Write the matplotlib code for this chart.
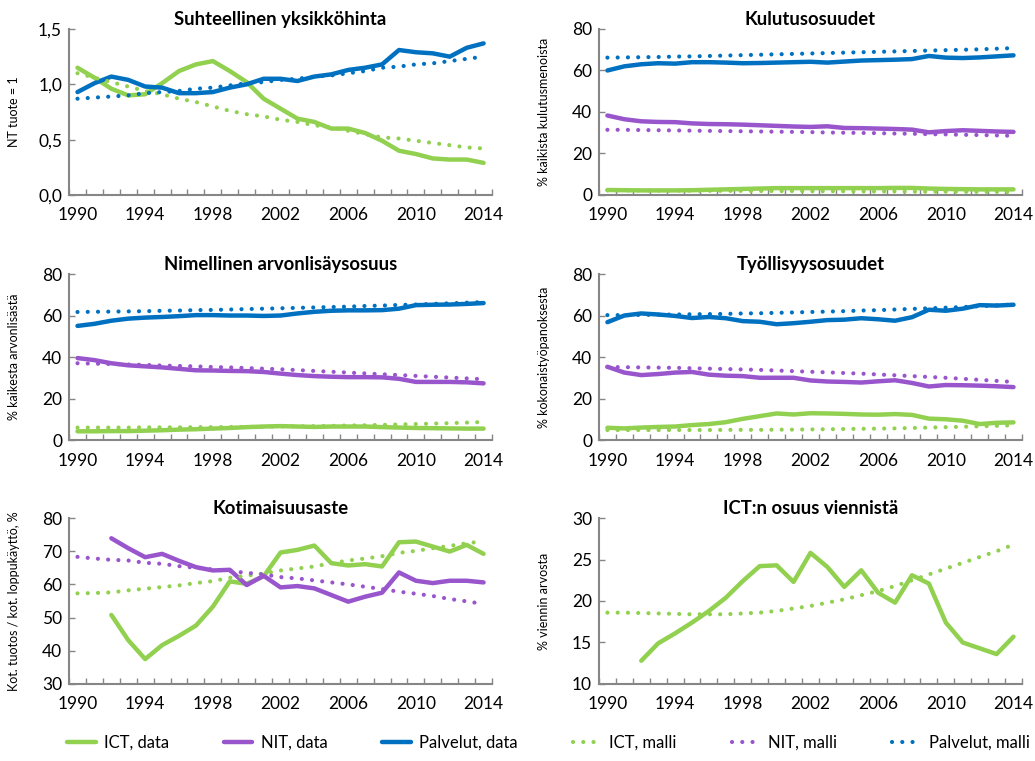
import matplotlib
matplotlib.use("Agg")
import matplotlib.pyplot as plt
from matplotlib.ticker import FuncFormatter, MultipleLocator
import numpy as np

plt.rcParams['font.family'] = ['Lato', 'DejaVu Sans']

years = list(range(1990, 2015))
nan = np.nan

GREEN = '#92D050'
PURPLE = '#9955CC'
BLUE = '#0070C0'
AXCOL = '#868686'

# Suhteellinen yksikkohinta
p1_ict = [1.15, 1.06, 0.96, 0.90, 0.91, 1.01, 1.12, 1.18, 1.21, 1.12, 1.02, 0.87, 0.78, 0.69, 0.66,
          0.60, 0.60, 0.56, 0.49, 0.40, 0.37, 0.33, 0.32, 0.32, 0.29]
p1_nit = [nan] * 25
p1_palv = [0.93, 1.01, 1.07, 1.04, 0.98, 0.97, 0.92, 0.92, 0.93, 0.97, 1.00, 1.05, 1.05, 1.03, 1.07,
           1.09, 1.13, 1.15, 1.18, 1.31, 1.29, 1.28, 1.25, 1.33, 1.37]
p1_ict_m = [1.10, 1.06, 1.02, 0.98, 0.94, 0.91, 0.87, 0.84, 0.80, 0.76, 0.73, 0.71, 0.68, 0.66, 0.63,
            0.61, 0.58, 0.55, 0.52, 0.51, 0.49, 0.47, 0.45, 0.43, 0.42]
p1_nit_m = [nan] * 25
p1_palv_m = [0.87, 0.88, 0.89, 0.90, 0.92, 0.93, 0.94, 0.96, 0.97, 0.99, 1.01, 1.02, 1.04, 1.05, 1.07,
             1.08, 1.10, 1.12, 1.15, 1.16, 1.18, 1.19, 1.21, 1.23, 1.25]

# Kulutusosuudet
p2_ict = [2.4, 2.3, 2.2, 2.2, 2.2, 2.3, 2.5, 2.7, 2.9, 3.1, 3.3, 3.3, 3.3, 3.3, 3.3,
          3.3, 3.3, 3.4, 3.4, 3.1, 2.9, 2.8, 2.7, 2.7, 2.7]
p2_nit = [38.3, 36.5, 35.5, 35.2, 35.1, 34.5, 34.2, 34.1, 33.9, 33.6, 33.3, 33.0, 32.8, 33.1, 32.3,
          32.2, 32.0, 31.8, 31.5, 30.2, 30.8, 31.2, 30.9, 30.6, 30.4]
p2_palv = [60.0, 62.0, 63.0, 63.5, 63.3, 64.0, 64.0, 63.8, 63.5, 63.6, 63.8, 64.0, 64.2, 63.8, 64.3,
           64.8, 65.0, 65.2, 65.5, 67.0, 66.2, 66.0, 66.3, 66.8, 67.3]
p2_ict_m = [2.2, 2.2, 2.2, 2.1, 2.1, 2.1, 2.0, 2.0, 2.0, 1.9, 1.9, 1.9, 1.8, 1.8, 1.8,
            1.7, 1.7, 1.7, 1.6, 1.6, 1.6, 1.5, 1.5, 1.5, 1.4]
p2_nit_m = [31.4, 31.4, 31.3, 31.2, 31.1, 31.0, 30.9, 30.8, 30.7, 30.6, 30.5, 30.4, 30.3, 30.1, 30.0,
            29.9, 29.8, 29.6, 29.5, 29.3, 29.2, 29.0, 28.9, 28.7, 28.5]
p2_palv_m = [66.2, 66.3, 66.4, 66.5, 66.7, 66.8, 67.0, 67.2, 67.4, 67.6, 67.8, 68.0, 68.2, 68.4, 68.6,
             68.8, 69.0, 69.2, 69.4, 69.6, 69.8, 70.0, 70.2, 70.5, 70.8]

# Nimellinen arvonlisaysosuus
p3_ict = [4.2, 4.2, 4.3, 4.3, 4.5, 4.7, 5.0, 5.2, 5.5, 5.8, 6.2, 6.5, 6.7, 6.5, 6.3,
          6.5, 6.5, 6.5, 6.2, 6.0, 5.8, 5.7, 5.6, 5.5, 5.5]
p3_nit = [39.5, 38.5, 37.0, 36.0, 35.5, 35.0, 34.3, 33.6, 33.5, 33.3, 33.2, 32.8, 32.0, 31.3, 30.8,
          30.5, 30.3, 30.3, 30.2, 29.5, 28.0, 28.0, 28.0, 27.8, 27.3]
p3_palv = [55.0, 56.0, 57.5, 58.5, 59.0, 59.3, 59.7, 60.2, 60.2, 60.0, 60.0, 59.8, 60.0, 61.0, 61.8,
           62.3, 62.5, 62.5, 62.6, 63.3, 65.0, 65.2, 65.3, 65.6, 66.0]
p3_ict_m = [6.0, 6.0, 6.0, 6.0, 6.1, 6.1, 6.1, 6.2, 6.2, 6.3, 6.3, 6.4, 6.5, 6.6, 6.7,
            6.8, 7.0, 7.1, 7.3, 7.5, 7.7, 7.9, 8.1, 8.4, 8.7]
p3_nit_m = [37.0, 36.8, 36.6, 36.4, 36.2, 35.9, 35.7, 35.5, 35.2, 35.0, 34.7, 34.4, 34.1, 33.7, 33.3,
            32.9, 32.5, 32.1, 31.7, 31.3, 30.9, 30.5, 30.1, 29.7, 29.3]
p3_palv_m = [61.7, 61.8, 61.9, 62.0, 62.1, 62.3, 62.4, 62.6, 62.7, 62.9, 63.1, 63.3, 63.5, 63.7, 63.9,
             64.1, 64.3, 64.6, 64.8, 65.1, 65.3, 65.6, 65.9, 66.2, 66.5]

# Tyollisyysosuudet
p4_ict = [5.9, 5.6, 6.0, 6.3, 6.5, 7.2, 7.7, 8.6, 10.2, 11.5, 12.8, 12.3, 12.9, 12.8, 12.6,
          12.3, 12.2, 12.5, 12.1, 10.3, 10.0, 9.3, 7.7, 8.3, 8.5]
p4_nit = [35.3, 32.5, 31.3, 31.8, 32.5, 32.8, 31.5, 31.0, 30.8, 30.0, 30.0, 30.0, 28.7, 28.2, 28.0,
          27.7, 28.3, 28.8, 27.5, 25.8, 26.5, 26.4, 26.2, 25.9, 25.5]
p4_palv = [56.8, 60.0, 61.0, 60.5, 59.8, 58.8, 59.3, 58.7, 57.3, 57.0, 55.8, 56.3, 57.0, 57.8, 58.0,
           58.7, 58.2, 57.5, 59.2, 62.8, 62.3, 63.3, 65.0, 64.8, 65.2]
p4_ict_m = [4.8, 4.8, 4.8, 4.8, 4.8, 4.8, 4.8, 4.9, 4.9, 4.9, 5.0, 5.0, 5.1, 5.2, 5.3,
            5.4, 5.5, 5.6, 5.8, 6.0, 6.2, 6.4, 6.6, 6.8, 7.1]
p4_nit_m = [35.2, 35.1, 35.0, 34.9, 34.8, 34.6, 34.4, 34.2, 34.0, 33.8, 33.5, 33.2, 32.9, 32.6, 32.3,
            32.0, 31.6, 31.2, 30.8, 30.4, 30.0, 29.5, 29.0, 28.5, 28.0]
p4_palv_m = [60.2, 60.2, 60.3, 60.4, 60.5, 60.6, 60.7, 60.8, 61.0, 61.1, 61.3, 61.5, 61.7, 61.9, 62.1,
             62.4, 62.6, 62.9, 63.2, 63.5, 63.8, 64.1, 64.5, 64.9, 65.3]

# Kotimaisuusaste
p5_ict = [nan, nan, 50.8, 43.2, 37.5, 41.7, 44.5, 47.6, 53.3, 60.9, 60.2, 62.4, 69.6, 70.4, 71.7,
          66.4, 65.7, 66.1, 65.4, 72.7, 72.9, 71.4, 69.9, 71.9, 69.2]
p5_nit = [nan, nan, 73.9, 70.9, 68.2, 69.2, 67.1, 65.2, 64.2, 64.4, 59.8, 62.6, 59.1, 59.5, 58.8,
          56.8, 54.8, 56.3, 57.5, 63.6, 61.1, 60.4, 61.1, 61.1, 60.6]
p5_palv = [nan] * 25
p5_ict_m = [57.3, 57.4, 57.6, 58.2, 58.7, 59.2, 59.7, 60.4, 61.0, 62.0, 62.6, 63.3, 64.2, 64.8, 65.4,
            66.4, 67.2, 67.8, 68.5, 69.5, 70.1, 70.9, 71.6, 72.4, 73.0]
p5_nit_m = [68.3, 67.8, 67.4, 67.2, 66.5, 66.2, 65.5, 65.0, 64.5, 64.0, 63.5, 63.0, 62.2, 61.8, 61.2,
            60.6, 60.0, 59.3, 58.6, 57.8, 57.2, 56.5, 55.6, 54.9, 54.1]
p5_palv_m = [nan] * 25

# ICT:n osuus viennista
p6_ict = [nan, nan, 12.8, 14.9, 16.1, 17.4, 18.8, 20.4, 22.4, 24.2, 24.3, 22.3, 25.8, 24.1, 21.7,
          23.7, 21.0, 19.8, 23.1, 22.1, 17.4, 15.0, 14.3, 13.6, 15.7]
p6_ict_m = [18.6, 18.6, 18.55, 18.5, 18.45, 18.4, 18.4, 18.4, 18.5, 18.6, 18.8, 19.1, 19.4, 19.8, 20.2,
            20.7, 21.2, 21.8, 22.5, 23.2, 23.9, 24.6, 25.3, 26.0, 26.8]
p6_nan = [nan] * 25

series_labels = ['ICT, data', 'NIT, data', 'Palvelut, data', 'ICT, malli', 'NIT, malli', 'Palvelut, malli']

panels = [
    ('Suhteellinen yksikköhinta', 'NT tuote = 1', (0, 1.5), 0.5,
     [p1_ict, p1_nit, p1_palv, p1_ict_m, p1_nit_m, p1_palv_m]),
    ('Kulutusosuudet', '% kaikista kulutusmenoista', (0, 80), 20,
     [p2_ict, p2_nit, p2_palv, p2_ict_m, p2_nit_m, p2_palv_m]),
    ('Nimellinen arvonlisäysosuus', '% kaikesta arvonlisästä', (0, 80), 20,
     [p3_ict, p3_nit, p3_palv, p3_ict_m, p3_nit_m, p3_palv_m]),
    ('Työllisyysosuudet', '% kokonaistyöpanoksesta', (0, 80), 20,
     [p4_ict, p4_nit, p4_palv, p4_ict_m, p4_nit_m, p4_palv_m]),
    ('Kotimaisuusaste', 'Kot. tuotos / kot. loppukäyttö, %', (30, 80), 10,
     [p5_ict, p5_nit, p5_palv, p5_ict_m, p5_nit_m, p5_palv_m]),
    ('ICT:n osuus viennistä', '% viennin arvosta', (10, 30), 5,
     [p6_ict, p6_nan, p6_nan, p6_ict_m, p6_nan, p6_nan]),
]

colors = [GREEN, PURPLE, BLUE, GREEN, PURPLE, BLUE]

fig = plt.figure(figsize=(10.35, 7.61), dpi=100)

lefts = [0.0667, 0.5787]
bottoms = [0.7438, 0.4218, 0.1012]
w, h = 0.4087, 0.2181

handles = None
for i, (title, ylabel, ylim, step, data) in enumerate(panels):
    ax = fig.add_axes([lefts[i % 2], bottoms[i // 2], w, h])
    lines = []
    for j, vals in enumerate(data):
        if j < 3:
            ln, = ax.plot(years, vals, color=colors[j], lw=3.2, solid_capstyle='round',
                          solid_joinstyle='round')
        else:
            ln, = ax.plot(years, vals, color=colors[j], lw=3.0, linestyle=(0, (0.01, 2.45)),
                          dash_capstyle='round')
        lines.append(ln)
    if i == 0:
        handles = lines

    ax.set_xlim(1989.5, 2014.5)
    ax.set_ylim(*ylim)
    ax.yaxis.set_major_locator(MultipleLocator(step))
    ax.set_xticks(range(1990, 2015, 4))
    ax.set_xticks(np.arange(1989.5, 2015, 1), minor=True)
    ax.tick_params(axis='x', which='major', length=0, pad=9, labelsize=12.5)
    ax.tick_params(axis='x', which='minor', direction='in', length=4, width=1, color=AXCOL)
    ax.tick_params(axis='y', direction='in', length=4, width=1, color=AXCOL, labelsize=12.5, pad=5)
    if i == 0:
        ax.yaxis.set_major_formatter(FuncFormatter(lambda v, p: f'{v:.1f}'.replace('.', ',')))
    for s in ['top', 'right']:
        ax.spines[s].set_visible(False)
    for s in ['left', 'bottom']:
        ax.spines[s].set_color(AXCOL)
        ax.spines[s].set_linewidth(1.5)
    ax.set_title(title, fontsize=13.3, fontweight='bold', pad=3)
    ax.set_ylabel(ylabel, fontsize=9)
    ax.yaxis.set_label_coords(-0.116, 0.5)

fig.legend(handles, series_labels, loc='center', bbox_to_anchor=(0.53, 0.024), ncol=6,
           frameon=False, fontsize=12, handlelength=1.7, handletextpad=0.5, columnspacing=3.3)

fig.savefig('out.png', dpi=100)
